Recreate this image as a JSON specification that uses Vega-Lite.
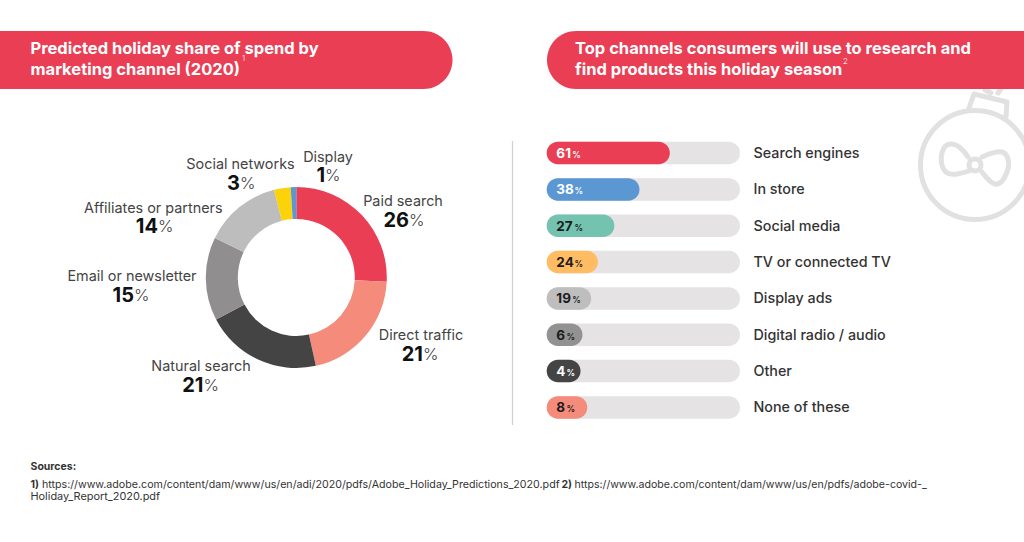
{
"$schema":"https://vega.github.io/schema/vega-lite/v6.json",
"width":1024,"height":542,"padding":0,"autosize":{"type":"none"},
"background":"#ffffff","view":{"stroke":null},
"config":{"text":{"font":"Inter","dy":1},"axis":{"domain":false}},
"datasets":{
"spend":[
{"channel":"Paid search","share":26,"rank":1},
{"channel":"Direct traffic","share":21,"rank":2},
{"channel":"Natural search","share":21,"rank":3},
{"channel":"Email or newsletter","share":15,"rank":4},
{"channel":"Affiliates or partners","share":14,"rank":5},
{"channel":"Social networks","share":3,"rank":6},
{"channel":"Display","share":1,"rank":7}],
"research":[
{"channel":"Search engines","pct":61,"barLength":63.7},
{"channel":"In store","pct":38,"barLength":48},
{"channel":"Social media","pct":27,"barLength":35},
{"channel":"TV or connected TV","pct":24,"barLength":26.5},
{"channel":"Display ads","pct":19,"barLength":23},
{"channel":"Digital radio / audio","pct":6,"barLength":18.5},
{"channel":"Other","pct":4,"barLength":17.5},
{"channel":"None of these","pct":8,"barLength":21}],
"frame":[{"id":1}]
},
"layer":[
{"encoding":{
  "x":{"type":"quantitative","scale":{"domain":[0,1024],"range":[0,1024]},"axis":null},
  "y":{"type":"quantitative","scale":{"domain":[0,542],"range":[0,542]},"axis":null}},
 "layer":[
 {"data":{"name":"frame"},"mark":{"type":"point","shape":"M0,-54.5A54.5,54.5 0 1 1 0,54.5A54.5,54.5 0 1 1 0,-54.5ZM-6,-57L-1,-71L32,-63L31,-48M23,-72L27,-78M10,-75L16,-72M-7,-8C-12,-16 -18,-22 -25,-21C-33,-20 -35,-8 -33,0C-31,9 -24,10 -18,9C-13,8 -9,7 -6,6M7,-8C14,-11 20,-14 27,-13C34,-11 35,0 32,7C29,15 25,20 20,19C15,18 11,12 7,7M6,0A6,6 0 1 1 -6,0A6,6 0 1 1 6,0Z","size":4,"filled":false,"stroke":"#E2E1E1","strokeWidth":5,"opacity":1,"strokeCap":"round","strokeJoin":"round"},
  "encoding":{"x":{"datum":975},"y":{"datum":165}}},
 {"data":{"name":"frame"},"mark":{"type":"rect","fill":"#E93E54","cornerRadiusTopRight":29,"cornerRadiusBottomRight":29},
  "encoding":{"x":{"datum":0},"x2":{"datum":452.5},"y":{"datum":31},"y2":{"datum":89}}},
 {"data":{"name":"frame"},"mark":{"type":"rect","fill":"#E93E54","cornerRadiusTopLeft":29,"cornerRadiusBottomLeft":29},
  "encoding":{"x":{"datum":547},"x2":{"datum":1024},"y":{"datum":31},"y2":{"datum":89}}},
 {"data":{"name":"frame"},"mark":{"type":"text","text":["Predicted holiday share of spend by","marketing channel (2020)"],"font":"Inter","fontSize":16.5,"fontWeight":700,"fill":"#ffffff","align":"left","baseline":"middle","lineHeight":21},
  "encoding":{"x":{"datum":30.5},"y":{"datum":48}}},
 {"data":{"name":"frame"},"mark":{"type":"text","text":["Top channels consumers will use to research and","find products this holiday season"],"font":"Inter","fontSize":16.5,"fontWeight":700,"fill":"#ffffff","align":"left","baseline":"middle","lineHeight":21},
  "encoding":{"x":{"datum":575},"y":{"datum":48}}},
 {"data":{"name":"frame"},"mark":{"type":"text","text":"1","fontSize":8,"fontWeight":300,"fill":"#ffffff","align":"left","baseline":"middle"},
  "encoding":{"x":{"datum":242},"y":{"datum":58}}},
 {"data":{"name":"frame"},"mark":{"type":"text","text":"2","fontSize":8,"fontWeight":300,"fill":"#ffffff","align":"left","baseline":"middle"},
  "encoding":{"x":{"datum":843},"y":{"datum":61}}},
 {"data":{"name":"frame"},"mark":{"type":"rule","stroke":"#CFCFCF","strokeWidth":1.2},
  "encoding":{"x":{"datum":512.5},"y":{"datum":141},"y2":{"datum":425}}},
 {"data":{"name":"spend"},"mark":{"type":"arc","outerRadius":90.5,"innerRadius":58.5},
  "encoding":{"x":{"datum":296.3},"y":{"datum":277.5},
   "theta":{"field":"share","type":"quantitative","stack":true,"scale":{"domain":[0,101]}},
   "order":{"field":"rank","type":"ordinal"},
   "color":{"field":"channel","type":"nominal","legend":null,"scale":{"domain":["Paid search","Direct traffic","Natural search","Email or newsletter","Affiliates or partners","Social networks","Display"],"range":["#E93E54","#F48B7B","#444444","#918E8F","#BDBDBD","#FCD20A","#5B98D3"]}}}},
 {"data":{"name":"frame"},"mark":{"type":"text","text":"Sources:","fontSize":10.5,"fontWeight":700,"fill":"#333333","align":"left","baseline":"middle"},
  "encoding":{"x":{"datum":30.5},"y":{"datum":466}}},
 {"data":{"name":"frame"},"mark":{"type":"text","text":"1)","fontSize":10.5,"fontWeight":700,"fill":"#333333","align":"left","baseline":"middle"},
  "encoding":{"x":{"datum":30.5},"y":{"datum":484}}},
 {"data":{"name":"frame"},"mark":{"type":"text","text":"https://www.adobe.com/content/dam/www/us/en/adi/2020/pdfs/Adobe_Holiday_Predictions_2020.pdf","fontSize":10.67,"fill":"#333333","align":"left","baseline":"middle"},
  "encoding":{"x":{"datum":42},"y":{"datum":484}}},
 {"data":{"name":"frame"},"mark":{"type":"text","text":"2)","fontSize":10.5,"fontWeight":700,"fill":"#333333","align":"left","baseline":"middle"},
  "encoding":{"x":{"datum":561.5},"y":{"datum":484}}},
 {"data":{"name":"frame"},"mark":{"type":"text","text":"https://www.adobe.com/content/dam/www/us/en/pdfs/adobe-covid-_","fontSize":10.6,"fill":"#333333","align":"left","baseline":"middle"},
  "encoding":{"x":{"datum":574.5},"y":{"datum":484}}},
 {"data":{"name":"frame"},"mark":{"type":"text","text":"Holiday_Report_2020.pdf","fontSize":10.9,"fill":"#333333","align":"left","baseline":"middle"},
  "encoding":{"x":{"datum":30.5},"y":{"datum":496}}},

 {"data":{"name":"spend"},"transform":[{"filter":"datum.channel=='Paid search'"}],"layer":[
  {"mark":{"type":"text","fontSize":14.4,"fill":"#444444"},"encoding":{"text":{"field":"channel"},"x":{"datum":403},"y":{"datum":201}}},
  {"mark":{"type":"text","fontSize":20,"fontWeight":700,"fill":"#111111","align":"right"},"encoding":{"text":{"field":"share"},"x":{"datum":409},"y":{"datum":220}}},
  {"mark":{"type":"text","fontSize":16.5,"fontWeight":300,"fill":"#444444","align":"left","text":"%"},"encoding":{"x":{"datum":409},"y":{"datum":220}}}]},
 {"data":{"name":"spend"},"transform":[{"filter":"datum.channel=='Direct traffic'"}],"layer":[
  {"mark":{"type":"text","fontSize":14.4,"fill":"#444444"},"encoding":{"text":{"field":"channel"},"x":{"datum":421},"y":{"datum":335}}},
  {"mark":{"type":"text","fontSize":20,"fontWeight":700,"fill":"#111111","align":"right"},"encoding":{"text":{"field":"share"},"x":{"datum":423},"y":{"datum":354}}},
  {"mark":{"type":"text","fontSize":16.5,"fontWeight":300,"fill":"#444444","align":"left","text":"%"},"encoding":{"x":{"datum":423},"y":{"datum":354}}}]},
 {"data":{"name":"spend"},"transform":[{"filter":"datum.channel=='Natural search'"}],"layer":[
  {"mark":{"type":"text","fontSize":14.4,"fill":"#444444"},"encoding":{"text":{"field":"channel"},"x":{"datum":201},"y":{"datum":365.5}}},
  {"mark":{"type":"text","fontSize":20,"fontWeight":700,"fill":"#111111","align":"right"},"encoding":{"text":{"field":"share"},"x":{"datum":203.5},"y":{"datum":385}}},
  {"mark":{"type":"text","fontSize":16.5,"fontWeight":300,"fill":"#444444","align":"left","text":"%"},"encoding":{"x":{"datum":203.5},"y":{"datum":385}}}]},
 {"data":{"name":"spend"},"transform":[{"filter":"datum.channel=='Email or newsletter'"}],"layer":[
  {"mark":{"type":"text","fontSize":14.4,"fill":"#444444"},"encoding":{"text":{"field":"channel"},"x":{"datum":132},"y":{"datum":276}}},
  {"mark":{"type":"text","fontSize":20,"fontWeight":700,"fill":"#111111","align":"right"},"encoding":{"text":{"field":"share"},"x":{"datum":134},"y":{"datum":295}}},
  {"mark":{"type":"text","fontSize":16.5,"fontWeight":300,"fill":"#444444","align":"left","text":"%"},"encoding":{"x":{"datum":134},"y":{"datum":295}}}]},
 {"data":{"name":"spend"},"transform":[{"filter":"datum.channel=='Affiliates or partners'"}],"layer":[
  {"mark":{"type":"text","fontSize":14.4,"fill":"#444444"},"encoding":{"text":{"field":"channel"},"x":{"datum":153.3},"y":{"datum":207.5}}},
  {"mark":{"type":"text","fontSize":20,"fontWeight":700,"fill":"#111111","align":"right"},"encoding":{"text":{"field":"share"},"x":{"datum":158},"y":{"datum":226}}},
  {"mark":{"type":"text","fontSize":16.5,"fontWeight":300,"fill":"#444444","align":"left","text":"%"},"encoding":{"x":{"datum":158},"y":{"datum":226}}}]},
 {"data":{"name":"spend"},"transform":[{"filter":"datum.channel=='Social networks'"}],"layer":[
  {"mark":{"type":"text","fontSize":14.4,"fill":"#444444"},"encoding":{"text":{"field":"channel"},"x":{"datum":240.5},"y":{"datum":163.5}}},
  {"mark":{"type":"text","fontSize":20,"fontWeight":700,"fill":"#111111","align":"right"},"encoding":{"text":{"field":"share"},"x":{"datum":240},"y":{"datum":182.5}}},
  {"mark":{"type":"text","fontSize":16.5,"fontWeight":300,"fill":"#444444","align":"left","text":"%"},"encoding":{"x":{"datum":240},"y":{"datum":182.5}}}]},
 {"data":{"name":"spend"},"transform":[{"filter":"datum.channel=='Display'"}],"layer":[
  {"mark":{"type":"text","fontSize":14.4,"fill":"#444444"},"encoding":{"text":{"field":"channel"},"x":{"datum":328},"y":{"datum":156.5}}},
  {"mark":{"type":"text","fontSize":20,"fontWeight":700,"fill":"#111111","align":"right"},"encoding":{"text":{"field":"share"},"x":{"datum":325},"y":{"datum":174.5}}},
  {"mark":{"type":"text","fontSize":16.5,"fontWeight":300,"fill":"#444444","align":"left","text":"%"},"encoding":{"x":{"datum":325},"y":{"datum":174.5}}}]}
 ]},
{"data":{"name":"research"},
 "encoding":{
  "y":{"field":"channel","type":"nominal","sort":null,"axis":null,"scale":{"type":"band","range":[134.9,425.6],"padding":0}}},
 "layer":[
 {"mark":{"type":"bar","size":22.5,"cornerRadius":11.25,"fill":"#E5E3E4"},
  "encoding":{"x":{"datum":100,"type":"quantitative","stack":null,"axis":null,"scale":{"domain":[0,100],"range":[546.7,740]}}}},
 {"mark":{"type":"bar","size":22.5,"cornerRadius":11.25},
  "encoding":{"x":{"field":"barLength","type":"quantitative","stack":null},
   "color":{"field":"channel","type":"nominal","legend":null,"sort":null,"scale":{"domain":["Search engines","In store","Social media","TV or connected TV","Display ads","Digital radio / audio","Other","None of these"],"range":["#E93E54","#5B98D3","#74C2B0","#FFBC62","#BEBEBE","#929292","#444444","#F48B7B"]}}}},
 {"mark":{"type":"text","align":"left","fontSize":13.5,"fontWeight":700},
  "encoding":{"x":{"datum":5},"text":{"field":"pct"},
   "color":{"condition":{"test":"indexof(['Search engines','In store','Other'],datum.channel)>=0","value":"#ffffff"},"value":"#1c1c1c"}}},
 {"transform":[{"filter":"datum.pct==61||datum.pct==19"}],"mark":{"type":"text","align":"left","fontSize":8.5,"fontWeight":600,"text":"%","dy":2},
  "encoding":{"x":{"datum":13.2},
   "color":{"condition":{"test":"indexof(['Search engines','In store','Other'],datum.channel)>=0","value":"#ffffff"},"value":"#1c1c1c"}}},
 {"transform":[{"filter":"datum.pct>=10&&datum.pct!=61&&datum.pct!=19"}],"mark":{"type":"text","align":"left","fontSize":8.5,"fontWeight":600,"text":"%","dy":2},
  "encoding":{"x":{"datum":14.4},
   "color":{"condition":{"test":"indexof(['Search engines','In store','Other'],datum.channel)>=0","value":"#ffffff"},"value":"#1c1c1c"}}},
 {"transform":[{"filter":"datum.pct<10"}],"mark":{"type":"text","align":"left","fontSize":8.5,"fontWeight":600,"text":"%","dy":2},
  "encoding":{"x":{"datum":10.3},
   "color":{"condition":{"test":"indexof(['Search engines','In store','Other'],datum.channel)>=0","value":"#ffffff"},"value":"#1c1c1c"}}},
 {"mark":{"type":"text","align":"left","fontSize":14.3,"fontWeight":500,"fill":"#333333"},
  "encoding":{"x":{"datum":107},"text":{"field":"channel"}}}
 ]}
],
"resolve":{"scale":{"x":"independent","y":"independent","color":"independent"}}
}
